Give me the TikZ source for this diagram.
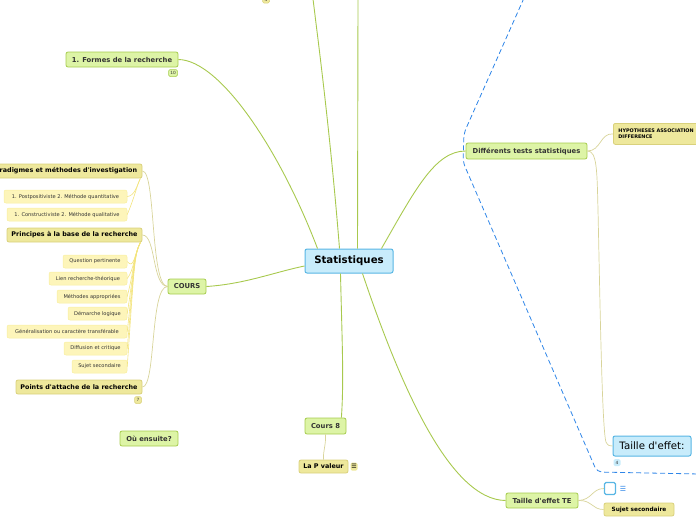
\documentclass[tikz,border=0pt]{standalone}
\usepackage{fontspec}
\setmainfont[Ligatures=TeXOff]{DejaVu Sans}
\definecolor{gfill}{HTML}{DDF4A6}
\definecolor{gdraw}{HTML}{A6CC4E}
\definecolor{yfill}{HTML}{EEE89C}
\definecolor{ydraw}{HTML}{D9D17C}
\definecolor{lfill}{HTML}{FDF5BA}
\definecolor{ldraw}{HTML}{F8EE9E}
\definecolor{bfill}{HTML}{C8ECFB}
\definecolor{bdraw}{HTML}{58B6E4}
\definecolor{gline}{HTML}{A8C94E}
\definecolor{yline}{HTML}{D8D49A}
\definecolor{lline}{HTML}{F3E47E}
\definecolor{dashblue}{HTML}{2F86E8}
\definecolor{txt}{HTML}{333333}
\newcommand{\fsMain}{\fontsize{6.8}{8}\selectfont}
\newcommand{\fsYel}{\fontsize{6.4}{7.5}\selectfont}
\newcommand{\fsLeaf}{\fontsize{5.1}{6}\selectfont}
\newcommand{\fsBig}{\fontsize{10.2}{12}\selectfont}
\tikzset{
  box/.style={rounded corners=2pt, inner sep=0pt, line width=0.8pt, align=center},
  gnode/.style={box, fill=gfill, draw=gdraw, text=txt, font=\fsMain\bfseries},
  ynode/.style={box, fill=yfill, draw=ydraw, text=black, font=\fsYel\bfseries},
  leaf/.style={box, fill=lfill, draw=ldraw, line width=0.5pt, text=txt, font=\fsLeaf},
  central/.style={box, fill=bfill, draw=bdraw, line width=1pt, text=black, font=\fsBig\bfseries},
  badge/.style={rounded corners=1.5pt, inner sep=0pt, line width=0.5pt, minimum width=9, minimum height=7, font=\fontsize{4.3}{5}\selectfont},
  gl/.style={draw=gline, line width=0.9pt},
  yl/.style={draw=yline, line width=0.7pt},
  ll/.style={draw=lline, line width=0.6pt},
}
\begin{document}
\begin{tikzpicture}[x=1pt,y=-1pt]
\useasboundingbox (0,0) rectangle (696,520);
% dashed boundary
\draw[dashblue, dash pattern=on 5pt off 3pt, line width=0.8pt, rounded corners=5pt]
  (524,-2) -- (464,133) -- (463,162) -- (597,472) -- (700,474);
% nodes
\node[central, minimum width=88, minimum height=24] (stat) at (349,261) {Statistiques};
\node[gnode, minimum width=112, minimum height=15] (formes) at (122,59.5) {1. Formes de la recherche};
\node[badge, fill=gfill, draw=gdraw, text=txt] (b10) at (173,73) {10};
\node[gnode, minimum width=38, minimum height=15] (cours) at (187,286.5) {COURS};
\node[ynode, minimum width=156, minimum height=14] (parad) at (64,171) {Paradigmes et méthodes d'investigation};
\node[leaf, minimum width=123, minimum height=13] (pl1) at (65.5,196.5) {1. Postpositiviste 2. Méthode quantitative};
\node[leaf, minimum width=120, minimum height=13] (pl2) at (67,214.5) {1. Constructiviste 2. Méthode qualitative};
\node[ynode, minimum width=135, minimum height=14] (princ) at (74.5,235) {Principes à la base de la recherche};
\node[leaf, minimum width=64, minimum height=13] (c1) at (95,261.5) {Question pertinente};
\node[leaf, minimum width=78, minimum height=13] (c2) at (88,278.5) {Lien recherche-théorique};
\node[leaf, minimum width=70, minimum height=13] (c3) at (92,296.5) {Méthodes appropriées};
\node[leaf, minimum width=59, minimum height=13] (c4) at (97.5,313.5) {Démarche logique};
\node[leaf, minimum width=120, minimum height=13] (c5) at (67,331.5) {Généralisation ou caractère transférable};
\node[leaf, minimum width=63, minimum height=13] (c6) at (95.5,348.5) {Diffusion et critique};
\node[leaf, minimum width=55, minimum height=13] (c7) at (99.5,366.5) {Sujet secondaire};
\node[ynode, minimum width=126, minimum height=14] (points) at (79,387) {Points d'attache de la recherche};
\node[badge, fill=yfill, draw=ydraw, text=txt, minimum width=7] (b7) at (138,400) {7};
\node[gnode, minimum width=58, minimum height=15] (ou) at (149,438.5) {Où ensuite?};
\node[gnode, minimum width=41, minimum height=16] (cours8) at (325.5,426) {Cours 8};
\node[ynode, minimum width=49, minimum height=13] (plv) at (323.5,466.5) {La P valeur};
\node[badge, fill=yfill, draw=none, text=black, minimum width=7, minimum height=8, font=\fontsize{6}{6}\selectfont] (note) at (354,466.5) {☰};
\node[gnode, minimum width=72, minimum height=15] (te) at (542,500.5) {Taille d'effet TE};
\node[draw=bdraw, fill=white, line width=1.2pt, rounded corners=1.5pt, minimum width=11, minimum height=12, inner sep=0pt] (sq) at (610,488.5) {};
\node[text=dashblue, inner sep=0pt, font=\fontsize{7}{7}\selectfont] (eq) at (623,488.5) {☰};
\node[ynode, minimum width=70, minimum height=13, font=\fontsize{5.8}{6.5}\selectfont\bfseries] (ss2) at (639,509.5) {Sujet secondaire};
\node[gnode, minimum width=121, minimum height=16] (tests) at (526.5,151) {Différents tests statistiques};
\node[ynode, anchor=north west, minimum width=110, minimum height=21, align=left, text width=100, inner xsep=5pt, font=\fontsize{4.9}{6.3}\selectfont\bfseries] (hyp) at (613,123) {HYPOTHESES ASSOCIATION\\DIFFERENCE};
\node[box, fill=bfill, draw=bdraw, line width=1pt, minimum width=78, minimum height=20, font=\fontsize{10.2}{12}\selectfont, text=black] (tael) at (652,446) {Taille d'effet:};
\node[badge, fill=bfill, draw=none, text=txt, minimum width=7] (b4b) at (617,462.5) {4};
\node[badge, fill=yfill, draw=ydraw, text=txt, minimum width=7] (b4a) at (266,-0.5) {4};
\coordinate (top1) at (313,-1);
\coordinate (top2) at (358,-1);
% main connectors
\draw[gl] (formes.east) .. controls (220,60) and (280,150) .. ([xshift=13]stat.north west);
\draw[gl] ([xshift=35]stat.north west) .. controls (330,130) and (318,40) .. (top1);
\draw[gl] ([xshift=53]stat.north west) -- (top2);
\draw[gl] ([xshift=77]stat.north west) .. controls (415,190) and (435,151) .. (tests.west);
\draw[gl] (cours.east) .. controls (245,284) and (275,272) .. ([yshift=-5]stat.west);
\draw[gl] ([xshift=36]stat.south west) .. controls (342,340) and (344,380) .. ([xshift=-5]cours8.north east);
\draw[gl] ([xshift=58]stat.south west) .. controls (400,385) and (450,500) .. (te.west);
% COURS children
\draw[yl] (parad.east) .. controls (156,171) and (150,286) .. (cours.west);
\draw[yl] (princ.east) .. controls (156,235) and (152,286) .. (cours.west);
\draw[yl] (points.east) .. controls (156,387) and (150,286) .. (cours.west);
% Paradigmes leaves
\foreach \n in {pl1,pl2} \draw[ll] ([xshift=-2]parad.south east) .. controls (137,185) and (135,196) .. (\n.east);
% Principes leaves
\foreach \n in {c1,c2,c3,c4,c5,c6,c7} \draw[ll] ([xshift=-2]princ.south east) .. controls (134,255) and (134,270) .. (\n.east);
% Cours 8
\draw[yl] (cours8.south) .. controls (326,446) and (323,450) .. (plv.north);
% tests children
\draw[yl] (tests.east) .. controls (601,151) and (600,133) .. (hyp.west);
\draw[yl] (tests.east) .. controls (597,151) and (597,170) .. (598,210) .. controls (600,300) and (602,430) .. (606,442) .. controls (608,446) and (610,446) .. (tael.west);
% TE children
\draw[yl] (te.east) .. controls (592,500) and (592,488.5) .. (sq.west);
\draw[yl] (te.east) .. controls (592,500) and (592,509.5) .. (ss2.west);
\end{tikzpicture}
\end{document}
